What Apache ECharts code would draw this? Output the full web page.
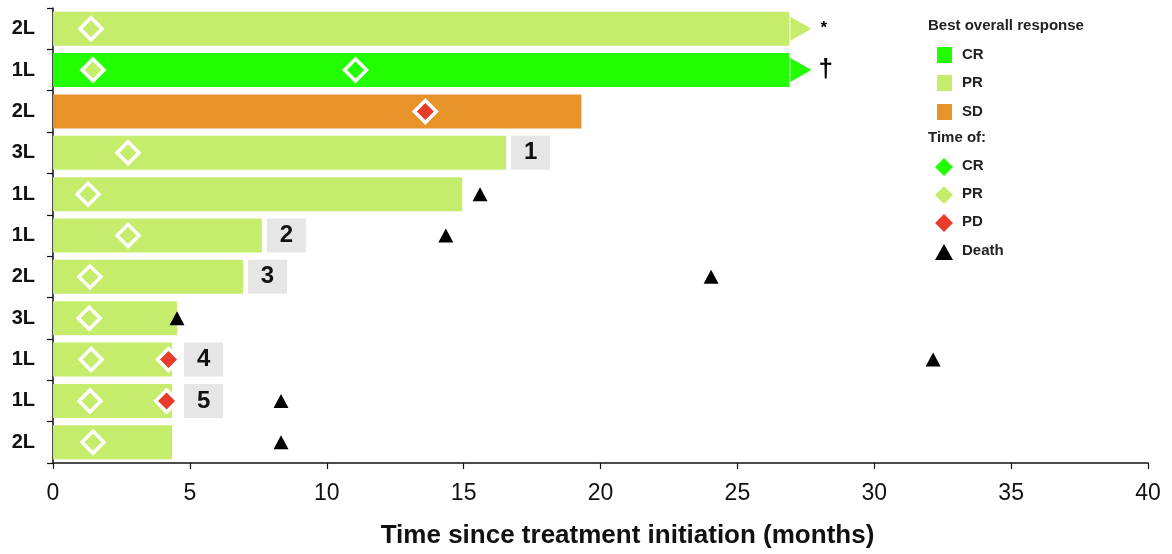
<!DOCTYPE html>
<html><head><meta charset="utf-8">
<script src="https://cdn.jsdelivr.net/npm/echarts@6/dist/echarts.min.js"></script>
<style>html,body{margin:0;padding:0;background:#fff}#c{width:1172px;height:554px}</style>
</head><body><div id="c"></div>
<script>
// ---- data ----
const lines     = ['2L','1L','2L','3L','1L','1L','2L','3L','1L','1L','2L'];
const response  = ['PR','CR','SD','PR','PR','PR','PR','PR','PR','PR','PR'];
const duration  = [26.9, 26.9, 19.3, 16.55, 14.95, 7.63, 6.94, 4.53, 4.35, 4.35, 4.35];
const ongoing   = [true, true, false, false, false, false, false, false, false, false, false];
const notes     = ['*', '\u2020', '', '', '', '', '', '', '', '', ''];
const boxLabels = ['', '', '', '1', '', '2', '3', '', '4', '5', ''];
const prTime    = [1.39, 1.46, null, 2.74, 1.28, 2.74, 1.35, 1.32, 1.39, 1.35, 1.46];
const crTime    = [null, 11.05, null, null, null, null, null, null, null, null, null];
const pdTime    = [null, null, 13.6, null, null, null, null, null, 4.22, 4.15, null];
const deathTime = [null, null, null, null, 15.6, 14.35, 24.04, 4.53, 32.15, 8.33, 8.33];

const colors = {CR:'#22ff00', PR:'#c5ed6b', SD:'#e8922a', PD:'#e83c2a', box:'#e6e6e6'};
const FONT = 'Liberation Sans, Arial, sans-serif';

function pts(arr){ const o=[]; arr.forEach((v,i)=>{ if(v!=null) o.push([v,i]); }); return o; }

const barData = duration.map((d,i)=>{
  const item = {value:d, itemStyle:{color:colors[response[i]]}};
  if (boxLabels[i]) {
    item.label = {show:true, position:'right', distance: pdTime[i]!=null ? 12 : 5,
      formatter:'{b|'+boxLabels[i]+'}',
      rich:{b:{backgroundColor:colors.box, width:39, height:34, lineHeight:34, align:'center',
        fontSize:24, fontWeight:'bold', color:'#111', fontFamily:FONT}}};
  } else if (notes[i]) {
    item.label = {show:true, position:'right', distance: notes[i]==='*' ? 31 : 29,
      formatter:notes[i], fontSize: notes[i]==='*' ? 17 : 26, fontWeight:'bold', color:'#000', fontFamily:FONT};
  }
  return item;
});

const arrowData = [];
duration.forEach((d,i)=>{ if(ongoing[i]) arrowData.push({value:[d,i], itemStyle:{color:colors[response[i]]}}); });

const diamondStyle = (c)=>({color:c, borderColor:'#fff', borderWidth:3.5, opacity:1});

const chart = echarts.init(document.getElementById('c'), null, {renderer:'canvas'});
const legendItems = [];
const LF = 15;
function ltext(x,y,t){ legendItems.push({type:'text', left:x, top:y-LF/2-1, style:{text:t, fontSize:LF, fontWeight:'bold', fill:'#222', fontFamily:FONT}}); }
ltext(928, 27, 'Best overall response');
[['CR',55],['PR',83],['SD',112]].forEach(([k,y])=>{
  legendItems.push({type:'rect', left:937, top:y-8, shape:{width:15,height:16}, style:{fill:colors[k]}});
  ltext(962, y+1, k);
});
ltext(928, 139, 'Time of:');
[['CR',167,colors.CR],['PR',195,colors.PR],['PD',223,colors.PD]].forEach(([k,y,c])=>{
  legendItems.push({type:'polygon', shape:{points:[[944,y-9],[953,y],[944,y+9],[935,y]]}, style:{fill:c}});
  ltext(962, y, k);
});
legendItems.push({type:'polygon', shape:{points:[[944,244],[953,260],[935,260]]}, style:{fill:'#000'}});
ltext(962, 252, 'Death');

chart.setOption({
  animation:false,
  grid:{left:53, right:24, top:8, bottom:91, containLabel:false},
  xAxis:{type:'value', min:0, max:40, interval:5,
    axisLine:{show:true, lineStyle:{color:'#111', width:1.5}},
    axisTick:{show:true, length:6, lineStyle:{color:'#111', width:1.2}},
    axisLabel:{fontSize:23, color:'#111', margin:19, fontFamily:FONT},
    splitLine:{show:false},
    name:'Time since treatment initiation (months)', nameLocation:'middle', nameGap:60,
    nameTextStyle:{fontSize:26, fontWeight:'bold', color:'#111', fontFamily:FONT, padding:[0,0,0,54]}},
  yAxis:{type:'category', inverse:true, data:lines,
    axisLine:{show:true, lineStyle:{color:'#111', width:1.5}},
    axisTick:{show:true, length:6, inside:false, lineStyle:{color:'#111', width:1.2}},
    axisLabel:{fontSize:20, fontWeight:'bold', color:'#111', margin:18, fontFamily:FONT}},
  graphic:legendItems,
  series:[
    {type:'bar', data:barData, barWidth:34, z:2},
    {type:'scatter', data:arrowData, symbol:'triangle', symbolRotate:-90, symbolSize:[24,21], symbolOffset:[11.5,0], itemStyle:{opacity:1}, z:3},
    {type:'scatter', data:pts(prTime), symbol:'diamond', symbolSize:22, itemStyle:diamondStyle(colors.PR), z:5},
    {type:'scatter', data:pts(crTime), symbol:'diamond', symbolSize:22, itemStyle:diamondStyle(colors.CR), z:5},
    {type:'scatter', data:pts(pdTime), symbol:'diamond', symbolSize:22, itemStyle:diamondStyle(colors.PD), z:5},
    {type:'scatter', data:pts(deathTime), symbol:'triangle', symbolSize:[15,14], itemStyle:{color:'#000', opacity:1}, z:6}
  ]
});
</script></body></html>
